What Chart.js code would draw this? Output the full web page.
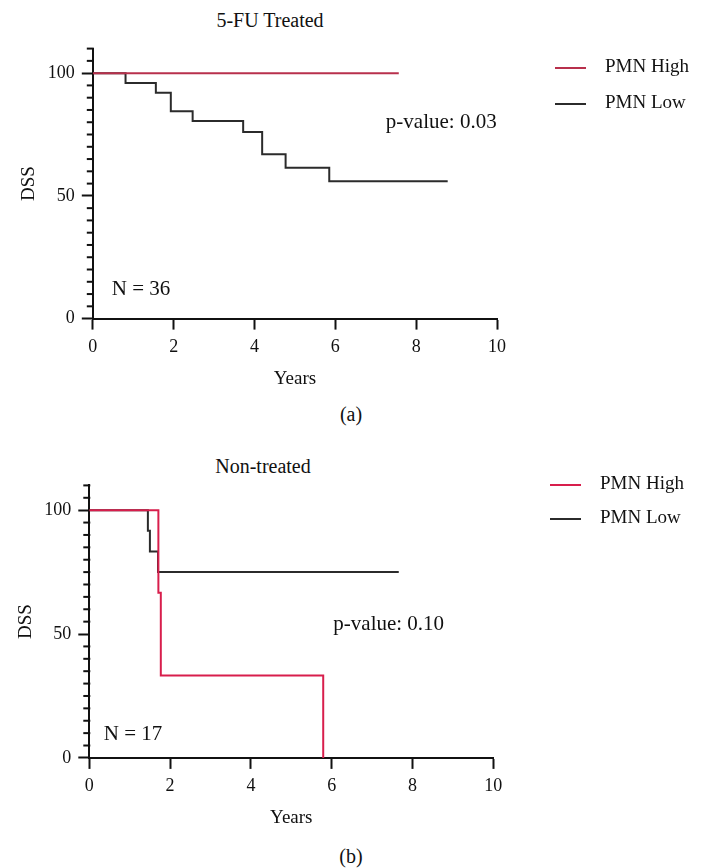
<!DOCTYPE html>
<html>
<head>
<meta charset="utf-8">
<script src="https://cdn.jsdelivr.net/npm/chart.js@4.4.1/dist/chart.umd.min.js"></script>
<style>
  body { margin: 0; background: #fff; width: 702px; height: 868px; position: relative; overflow: hidden;
         font-family: "Liberation Serif", serif; color: #111; }
  canvas { position: absolute; left: 0; }
  .txt { position: absolute; white-space: nowrap; transform: translate(-50%, -50%); font-size: 20px; }
  .leg { position: absolute; font-size: 19px; white-space: nowrap; }
  .leg span { display: inline-block; width: 31px; height: 2px; vertical-align: middle; margin-right: 19px; }
</style>
</head>
<body>
<div class="txt" style="left:270px;top:20px">5-FU Treated</div>
<canvas id="chartA" width="702" height="400" style="top:0"></canvas>
<div id="legA" class="leg" style="left:555px;top:53px"></div>
<div class="txt" style="left:351px;top:414px">(a)</div>

<div class="txt" style="left:263px;top:466px">Non-treated</div>
<canvas id="chartB" width="702" height="400" style="top:440px"></canvas>
<div id="legB" class="leg" style="left:550px;top:470px"></div>
<div class="txt" style="left:351px;top:856px">(b)</div>

<script>
const seriesNames = ["PMN High", "PMN Low"];

// 5-FU treated
const treatedHighYears = [0, 7.57];
const treatedHighDSS = [100, 100];
const treatedLowYears = [0, 0.81, 1.56, 1.93, 2.47, 3.72, 4.19, 4.77, 5.85, 8.78];
const treatedLowDSS = [100, 96, 92, 84.5, 80.5, 76, 67, 61.5, 56, 56];

// non-treated
const untreatedHighYears = [0, 1.71, 1.77, 5.79];
const untreatedHighDSS = [100, 66.7, 33.3, 0];
const untreatedLowYears = [0, 1.45, 1.5, 1.7, 7.66];
const untreatedLowDSS = [100, 91.7, 83.3, 75, 75];

const xTicks = [0, 2, 4, 6, 8, 10];
const yLabels = [0, 50, 100];

const font = "Liberation Serif";
const ink = "#111";

function points(xs, ys) {
  return xs.map((x, i) => ({ x: x, y: ys[i] }));
}

// short ticks between the labelled ones on the DSS axis
const minorTicks = {
  id: "minorTicks",
  afterDraw(chart) {
    const y = chart.scales.y;
    const ctx = chart.ctx;
    const left = chart.chartArea.left;
    ctx.save();
    ctx.strokeStyle = ink;
    ctx.lineWidth = 2;
    y.ticks.forEach(t => {
      if (yLabels.includes(t.value)) return;
      const py = y.getPixelForValue(t.value);
      ctx.beginPath();
      ctx.moveTo(left - 6, py);
      ctx.lineTo(left + 1, py);
      ctx.stroke();
    });
    ctx.restore();
  }
};

// free text placed at data coordinates
const notes = {
  id: "notes",
  afterDatasetsDraw(chart, args, opts) {
    const ctx = chart.ctx;
    ctx.save();
    ctx.fillStyle = ink;
    ctx.textAlign = "left";
    ctx.textBaseline = "middle";
    ctx.font = "21px '" + font + "'";
    (opts.items || []).forEach(n => {
      ctx.fillText(n.text, chart.scales.x.getPixelForValue(n.x), chart.scales.y.getPixelForValue(n.y));
    });
    ctx.restore();
  }
};

function makeChart(id, highColor, high, low, items, pad) {
  return new Chart(document.getElementById(id), {
    type: "line",
    data: {
      datasets: [
        { label: seriesNames[0], data: high, borderColor: highColor, borderWidth: 2, stepped: true, pointRadius: 0, fill: false },
        { label: seriesNames[1], data: low, borderColor: "#2b2b2b", borderWidth: 2, stepped: true, pointRadius: 0, fill: false }
      ]
    },
    options: {
      responsive: false,
      animation: false,
      layout: { padding: pad },
      plugins: {
        legend: { display: false },
        tooltip: { enabled: false },
        notes: { items: items }
      },
      scales: {
        x: {
          type: "linear",
          min: 0,
          max: 10,
          afterBuildTicks: s => { s.ticks = xTicks.map(v => ({ value: v })); },
          ticks: { color: ink, font: { family: font, size: 18 }, padding: 7 },
          grid: { drawOnChartArea: false, tickLength: 11, tickWidth: 2, tickColor: ink },
          border: { color: ink, width: 2 },
          title: { display: true, text: "Years", color: ink, font: { family: font, size: 19 }, padding: { top: 2, bottom: 4 } }
        },
        y: {
          min: 0,
          max: 110,
          ticks: {
            stepSize: 5,
            autoSkip: false,
            color: ink,
            font: { family: font, size: 18 },
            padding: 7,
            callback: v => (yLabels.includes(v) ? v : "")
          },
          grid: {
            drawOnChartArea: false,
            tickLength: 11,
            tickWidth: 2,
            tickColor: c => (c.tick && yLabels.includes(c.tick.value) ? ink : "rgba(0,0,0,0)")
          },
          border: { color: ink, width: 2 },
          title: { display: true, text: "DSS", color: ink, font: { family: font, size: 19 }, padding: { top: 6, bottom: 0 } }
        }
      }
    },
    plugins: [minorTicks, notes]
  });
}

makeChart("chartA", "#b8304c",
  points(treatedHighYears, treatedHighDSS),
  points(treatedLowYears, treatedLowDSS),
  [{ text: "p-value: 0.03", x: 7.25, y: 80 }, { text: "N = 36", x: 0.47, y: 12 }],
  { top: 48.6, right: 205, bottom: 6, left: 12 });

makeChart("chartB", "#d81e4c",
  points(untreatedHighYears, untreatedHighDSS),
  points(untreatedLowYears, untreatedLowDSS),
  [{ text: "p-value: 0.10", x: 6.04, y: 54 }, { text: "N = 17", x: 0.36, y: 9.5 }],
  { top: 45.4, right: 208.7, bottom: 6.7, left: 8.5 });

// legends beside each panel
function legend(id, highColor, rowGap) {
  const colors = [highColor, "#2b2b2b"];
  document.getElementById(id).innerHTML = seriesNames.map((n, i) =>
    '<div style="height:' + rowGap + 'px;line-height:26px"><span style="background:' + colors[i] + '"></span>' + n + "</div>"
  ).join("");
}
legend("legA", "#b8304c", 36);
legend("legB", "#d81e4c", 34);
</script>
</body>
</html>
